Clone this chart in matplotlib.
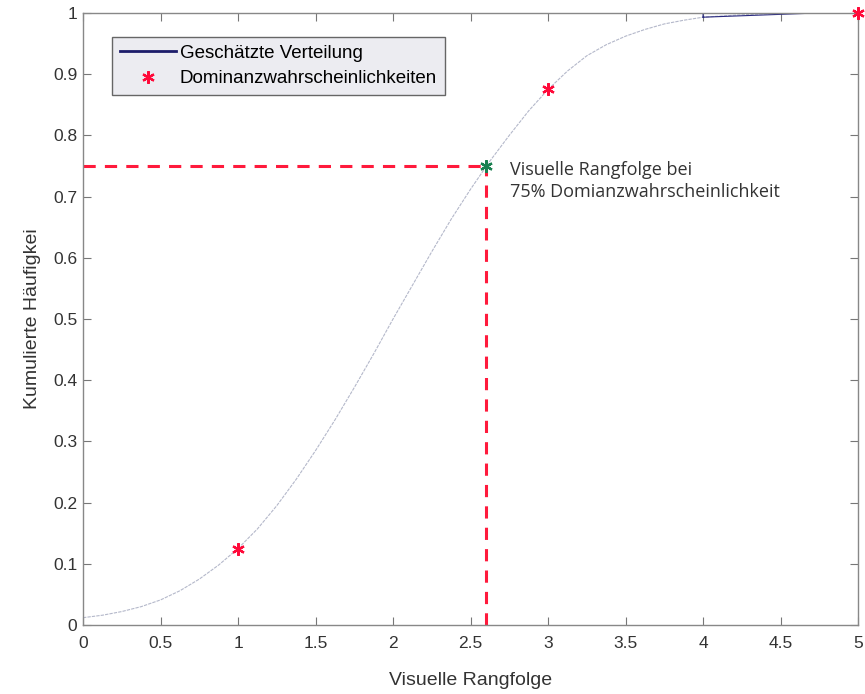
import matplotlib
matplotlib.use("Agg")
import matplotlib.pyplot as plt

# ------------------------------------------------------------------
# Data
# ------------------------------------------------------------------
curve_x = [0.0, 0.125, 0.25, 0.375, 0.5, 0.625, 0.75, 0.875, 1.0, 1.125,
           1.25, 1.375, 1.5, 1.625, 1.75, 1.875, 2.0, 2.125, 2.25, 2.375,
           2.5, 2.625, 2.75, 2.875, 3.0, 3.125, 3.25, 3.375, 3.5, 3.625,
           3.75, 3.875, 4.0, 4.25, 4.5, 4.75, 5.0]
curve_y = [0.012, 0.016, 0.022, 0.030, 0.041, 0.056, 0.075, 0.098, 0.125,
           0.157, 0.195, 0.238, 0.285, 0.335, 0.388, 0.443, 0.50, 0.555,
           0.61, 0.663, 0.712, 0.758, 0.800, 0.840, 0.875, 0.905, 0.930,
           0.948, 0.962, 0.973, 0.982, 0.988, 0.993, 0.997, 0.999, 1.0, 1.0]

# small dark part of the estimated distribution near the top
tail_x = [4.0, 4.0, 4.75, 4.0]
tail_y = [0.993, 1.0, 1.0, 0.993]

dom_x = [1, 3, 5]
dom_y = [0.125, 0.875, 1.0]

rank_75 = 2.6
prob_75 = 0.75

x_ticks = [0, 0.5, 1, 1.5, 2, 2.5, 3, 3.5, 4, 4.5, 5]
y_ticks = [0, 0.1, 0.2, 0.3, 0.4, 0.5, 0.6, 0.7, 0.8, 0.9, 1]

plt.rcParams["font.family"] = ["Liberation Sans", "DejaVu Sans"]

fig = plt.figure(figsize=(8.65, 6.94), dpi=100)
ax = fig.add_axes([0.096, 0.0994, 0.896, 0.882])

# curve
ax.plot(curve_x, curve_y, color="#b4b8ca", lw=0.8, linestyle=(0, (3, 1)))
line_est, = ax.plot(tail_x, tail_y, color="#2a2a80", lw=0.8)

# dashed guide lines
ax.plot([0, rank_75], [prob_75, prob_75], color="#ff1a3c", lw=2.2,
        linestyle=(0, (4, 3)))
ax.plot([rank_75, rank_75], [0, prob_75], color="#ff1a3c", lw=2.2,
        linestyle=(0, (4, 3)))

# markers
asterisk = (6, 2, 0)
pts, = ax.plot(dom_x, dom_y, linestyle="none", marker=asterisk,
               markersize=9, markeredgewidth=1.6, color="#ff0a3a",
               clip_on=False, zorder=5)
ax.plot([rank_75], [prob_75], linestyle="none", marker=asterisk,
        markersize=9, markeredgewidth=1.6, color="#1a8050", zorder=6)

ax.text(2.755, 0.758, "Visuelle Rangfolge bei\n75% Domianzwahrscheinlichkeit",
        fontsize=13, family=["Open Sans", "DejaVu Sans"], color="#333333",
        va="top", ha="left", linespacing=1.3)

# axes styling
ax.set_xlim(0, 5)
ax.set_ylim(0, 1)
ax.set_xticks(x_ticks)
ax.set_xticklabels(["0", "0.5", "1", "1.5", "2", "2.5", "3", "3.5", "4",
                    "4.5", "5"])
ax.set_yticks(y_ticks)
ax.set_yticklabels(["0", "0.1", "0.2", "0.3", "0.4", "0.5", "0.6", "0.7",
                    "0.8", "0.9", "1"])
ax.tick_params(direction="in", length=6, width=0.8, colors="#777777",
               labelcolor="#333333", labelsize=12.5, top=True, right=True)
ax.tick_params(axis="y", pad=4)
ax.tick_params(axis="x", pad=8)
for s in ax.spines.values():
    s.set_color("#888888")
    s.set_linewidth(1.0)

ax.set_xlabel("Visuelle Rangfolge", fontsize=14, color="#333333", labelpad=15)
ax.set_ylabel("Kumulierte Häufigkei", fontsize=14, color="#333333",
              labelpad=9)

leg = ax.legend([line_est, pts],
                ["Geschätzte Verteilung", "Dominanzwahrscheinlichkeiten"],
                loc="upper left", bbox_to_anchor=(0.0374, 0.961),
                borderaxespad=0, fontsize=13.5, frameon=True, fancybox=False,
                handlelength=3.0, borderpad=0.42, labelspacing=0.45,
                handletextpad=0.2)
leg.get_frame().set_facecolor("#ececf1")
leg.get_frame().set_edgecolor("#666666")
leg.get_frame().set_alpha(1)
leg.get_lines()[0].set_linewidth(2)
leg.get_lines()[0].set_color("#1c1c6a")

fig.savefig("out.png", dpi=100)
